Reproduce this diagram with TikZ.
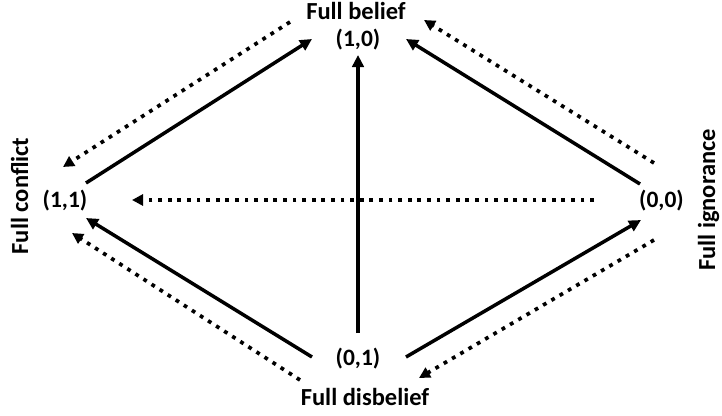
\documentclass[tikz,border=0pt]{standalone}
\usepackage{fontspec}
\setmainfont{Carlito}
\usetikzlibrary{arrows.meta}
\tikzset{
  lbl/.style={inner sep=0pt, anchor=base, font=\bfseries\fontsize{23.5}{28}\selectfont},
  ttl/.style={inner sep=0pt, anchor=base, font=\bfseries\fontsize{24.5}{29}\selectfont},
  solidarrow/.style={line width=3.5pt, -{Triangle[length=12pt,width=11.5pt]}},
  dotarrow/.style={line width=3.7pt, dash pattern=on 3.8pt off 5.8pt, -{Triangle[length=11pt,width=11pt]}}
}
\begin{document}
\begin{tikzpicture}[x=1pt,y=-1pt]
\useasboundingbox (0,0) rectangle (722,415);
% labels
\node[ttl] (fb) at (356,19) {Full belief};
\node[lbl] (n10) at (358,46) {(1,0)};
\node[lbl] (n01) at (358,365) {(0,1)};
\node[ttl] (fd) at (365,405) {Full disbelief};
\node[lbl] (n11) at (65,207) {(1,1)};
\node[lbl] (n00) at (661.5,207) {(0,0)};
\node[ttl, rotate=90] (fc) at (28,196) {Full conflict};
\node[ttl, rotate=90] (fi) at (715,200) {Full ignorance};
% arrow end points
\coordinate (s1a) at (86,183);   \coordinate (s1b) at (312,39);
\coordinate (s2a) at (640,184);  \coordinate (s2b) at (406,39);
\coordinate (s3a) at (358,333);  \coordinate (s3b) at (358,55);
\coordinate (s4a) at (312,357);  \coordinate (s4b) at (86,218);
\coordinate (s5a) at (406,357);  \coordinate (s5b) at (641,220);
\coordinate (d1a) at (290,22);   \coordinate (d1b) at (63,167);
\coordinate (d2a) at (654,163);  \coordinate (d2b) at (424,20);
\coordinate (d3a) at (300,380);  \coordinate (d3b) at (72,233);
\coordinate (d4a) at (654,240);  \coordinate (d4b) at (419,378);
\coordinate (d5a) at (594,200);  \coordinate (d5b) at (132,200);
% solid arrows
\draw[solidarrow] (s1a) -- (s1b);
\draw[solidarrow] (s2a) -- (s2b);
\draw[solidarrow] (s3a) -- (s3b);
\draw[solidarrow] (s4a) -- (s4b);
\draw[solidarrow] (s5a) -- (s5b);
% dotted arrows
\draw[dotarrow] (d1a) -- (d1b);
\draw[dotarrow] (d2a) -- (d2b);
\draw[dotarrow] (d3a) -- (d3b);
\draw[dotarrow] (d4a) -- (d4b);
\draw[dotarrow] (d5a) -- (d5b);
\end{tikzpicture}
\end{document}
